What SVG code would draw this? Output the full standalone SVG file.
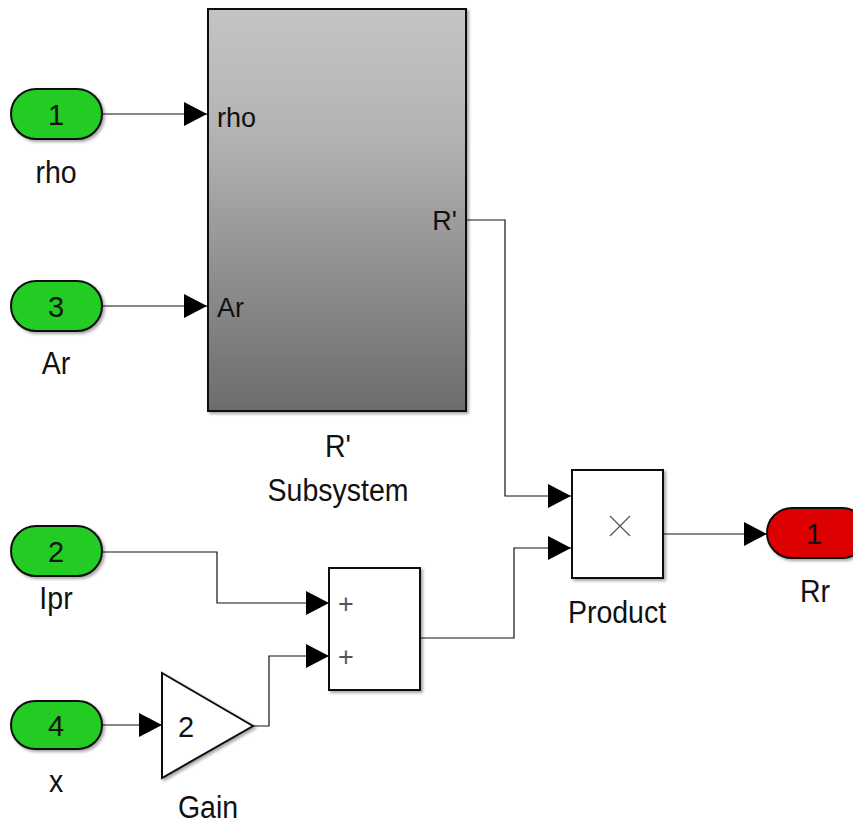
<svg xmlns="http://www.w3.org/2000/svg" width="853" height="829" viewBox="0 0 853 829">
<defs>
<linearGradient id="sub" x1="0" y1="0" x2="0" y2="1">
<stop offset="0" stop-color="#c4c4c4"/>
<stop offset="0.3" stop-color="#b4b4b4"/>
<stop offset="1" stop-color="#6c6c6c"/>
</linearGradient>
<marker id="arr" markerWidth="24" markerHeight="24" refX="23" refY="12" orient="auto" markerUnits="userSpaceOnUse">
<path d="M0,0 L23,12 L0,24 Z" fill="#000"/>
</marker>
<filter id="sh" x="-10%" y="-10%" width="130%" height="130%">
<feDropShadow dx="2" dy="2" stdDeviation="1.5" flood-color="#000" flood-opacity="0.35"/>
</filter>
</defs>
<style>
text{font-family:"Liberation Sans",Arial,sans-serif;fill:#111}
.lbl{font-size:31px;text-anchor:middle}
.num{font-size:29px;text-anchor:middle}
.port{font-size:27px}
.plus{font-size:27px;text-anchor:middle;fill:#555;font-weight:300}
.in{fill:#22cc22;stroke:#111;stroke-width:2}
.out{fill:#dd0000;stroke:#111;stroke-width:2}
.blk{fill:#fff;stroke:#111;stroke-width:2}
.wire{fill:none;stroke:#111;stroke-width:1.2}
</style>
<rect width="853" height="829" fill="#fff"/>
<g id="connectors">
<path class="wire" d="M102,114 H207" marker-end="url(#arr)"/>
<path class="wire" d="M102,306 H207" marker-end="url(#arr)"/>
<path class="wire" d="M466,220 H505 V496 H571" marker-end="url(#arr)"/>
<path class="wire" d="M420,638 H514 V548 H571" marker-end="url(#arr)"/>
<path class="wire" d="M663,534 H767" marker-end="url(#arr)"/>
<path class="wire" d="M102,552 H217 V603 H329" marker-end="url(#arr)"/>
<path class="wire" d="M253,726 H269 V656 H329" marker-end="url(#arr)"/>
<path class="wire" d="M102,725 H162" marker-end="url(#arr)"/>
</g>
<g id="in1">
<rect class="in" x="11" y="89" width="91" height="50" rx="25" filter="url(#sh)"/>
<text class="num" x="56" y="125">1</text>
<text class="lbl" transform="translate(56,183) scale(0.92,1)">rho</text>
</g>
<g id="in3">
<rect class="in" x="11" y="281" width="91" height="50" rx="25" filter="url(#sh)"/>
<text class="num" x="56" y="317">3</text>
<text class="lbl" transform="translate(56,374) scale(0.92,1)">Ar</text>
</g>
<g id="in2">
<rect class="in" x="11" y="526" width="91" height="50" rx="25" filter="url(#sh)"/>
<text class="num" x="56" y="562">2</text>
<text class="lbl" transform="translate(56,609) scale(0.92,1)">Ipr</text>
</g>
<g id="in4">
<rect class="in" x="11" y="701" width="91" height="48" rx="24" filter="url(#sh)"/>
<text class="num" x="56" y="736">4</text>
<text class="lbl" transform="translate(56,792) scale(0.92,1)">x</text>
</g>
<g id="subsystem">
<rect x="208" y="9" width="258" height="402" fill="url(#sub)" stroke="#111" stroke-width="2" filter="url(#sh)"/>
<text class="port" x="217" y="127">rho</text>
<text class="port" x="217" y="317">Ar</text>
<text class="port" x="457" y="230" text-anchor="end">R'</text>
<text class="lbl" transform="translate(338,457) scale(0.92,1)">R'</text>
<text class="lbl" transform="translate(338,501) scale(0.92,1)">Subsystem</text>
</g>
<g id="sum">
<rect class="blk" x="329" y="568" width="91" height="122" filter="url(#sh)"/>
<text class="plus" x="346" y="613">+</text>
<text class="plus" x="346" y="666">+</text>
</g>
<g id="gain">
<path class="blk" d="M162,673 L253,726 L162,778 Z" filter="url(#sh)"/>
<text class="num" x="186" y="737">2</text>
<text class="lbl" transform="translate(208,818) scale(0.92,1)">Gain</text>
</g>
<g id="product">
<rect class="blk" x="572" y="470" width="91" height="108" filter="url(#sh)"/>
<path d="M610,516 L630,536 M630,516 L610,536" stroke="#555" stroke-width="1.2"/>
<text class="lbl" transform="translate(617,623) scale(0.92,1)">Product</text>
</g>
<g id="out1">
<rect class="out" x="767" y="508" width="100" height="50" rx="25" filter="url(#sh)"/>
<text class="num" x="814" y="544">1</text>
<text class="lbl" transform="translate(815,602) scale(0.92,1)">Rr</text>
</g>
</svg>
